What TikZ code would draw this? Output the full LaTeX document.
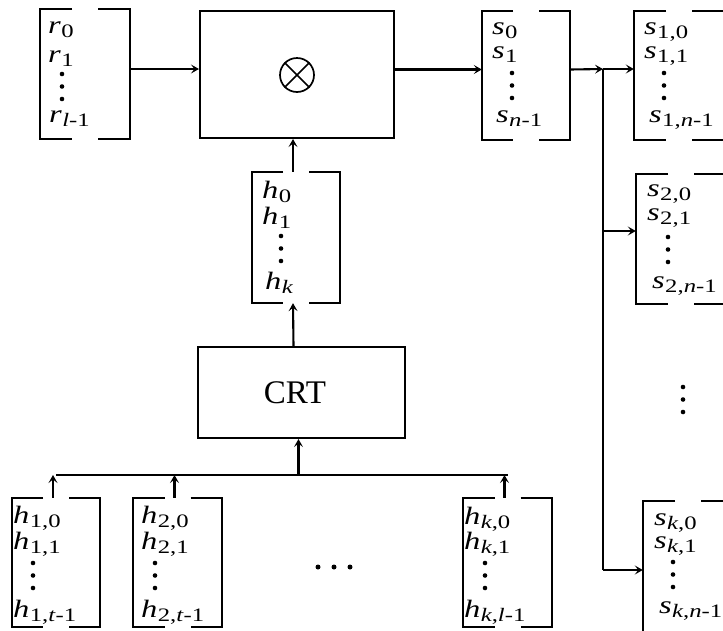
\documentclass[tikz,border=0pt]{standalone}
\usepackage{fontspec}
\setmainfont{Liberation Serif}
\usetikzlibrary{calc,arrows.meta}
\newcommand\V[2]{\scalebox{1.3}[1]{\textit{#1}\kern0.3pt\raisebox{-4.5pt}{\fontsize{19}{19}\selectfont#2}}}
\newcommand\I[1]{\textit{#1}}
\newcommand\brk[2]{%
  \draw[ln] ($(#1.north)+(-#2,0)$) -| (#1.south west) -- ($(#1.south)+(-#2,0)$);
  \draw[ln] ($(#1.north)+(#2,0)$) -| (#1.south east) -- ($(#1.south)+(#2,0)$);}
\newcommand\vd[2]{\fill (#1,#2) circle (2.3) (#1,#2+12.5) circle (2.3) (#1,#2+25) circle (2.3);}
\begin{document}
\begin{tikzpicture}[x=1pt,y=-1pt,
  ln/.style={line width=2.1pt},
  conn/.style={line width=2.1pt,->,>={Stealth[length=8pt,width=9pt,inset=3.5pt]}},
  frame/.style={inner sep=0pt,minimum width=#1},
  blk/.style={draw,ln,inner sep=0pt},
  txt/.style={anchor=base west,inner sep=0pt,font=\fontsize{25}{25}\selectfont}]
\useasboundingbox (0,0) rectangle (723,630);
\clip (0,0) rectangle (723,630);
% bracket columns
\node[frame=90,minimum height=130] (R) at (85,74) {};
\node[frame=88,minimum height=129] (S) at (526,75.5) {};
\node[frame=90,minimum height=129] (S1) at (679,75.5) {};
\node[frame=88,minimum height=131] (H) at (296,237.5) {};
\node[frame=90,minimum height=130] (S2) at (681,239) {};
\node[frame=90,minimum height=134] (SK) at (688,568) {};
\node[frame=88,minimum height=129] (H1) at (56,562.5) {};
\node[frame=89,minimum height=129] (H2) at (177.5,562.5) {};
\node[frame=89,minimum height=129] (HK) at (507.5,562.5) {};
\foreach \b in {R,S,S1,H,S2,SK,H1,H2,HK} {\brk{\b}{13}}
% blocks
\node[blk,minimum width=194,minimum height=127] (M) at (297,74.5) {};
\node[draw,circle,minimum size=34,inner sep=0pt,line width=1.7pt] (X) at (297,75) {};
\draw[line width=1.7pt] (X.north west) -- (X.south east) (X.north east) -- (X.south west);
\node[blk,minimum width=207,minimum height=91] (CRT) at (301.5,392.5) {};
% connectors
\coordinate (J) at (603,69);
\coordinate (JK) at (603,570);
\coordinate (bus) at (0,475);
\draw[conn] ([yshift=5pt]R.east) -- ([yshift=5pt]R.east -| M.west);
\draw[conn] ([yshift=5pt]M.east) -- ([yshift=5pt]M.east -| S.west);
\draw[conn] ([yshift=6pt]S.east) -- (J);
\draw[conn] (J) -- (J -| S1.west);
\draw[ln] (J) -- (JK);
\draw[conn] (JK) -- (JK -| SK.west);
\draw[conn] ([yshift=8pt]S2.west -| J) -- ([yshift=8pt]S2.west);
\draw[conn] ([xshift=-3pt]H.north) -- ([xshift=-3pt]H.north |- M.south);
\draw[conn] ([xshift=-8pt]CRT.north) -- ([xshift=-3pt]H.south);
\draw[ln] (H1.north |- bus) -- (HK.north |- bus);
\draw[conn] ([xshift=-3pt]H1.north) -- ([xshift=-3pt]H1.north |- bus);
\draw[conn] ([xshift=-3pt]H2.north) -- ([xshift=-3pt]H2.north |- bus);
\draw[conn] ([xshift=-3pt]HK.north) -- ([xshift=-3pt]HK.north |- bus);
\draw[conn] ([xshift=-3pt]CRT.south |- bus) -- ([xshift=-3pt]CRT.south);
% texts
\node[font=\fontsize{33}{33}\selectfont,inner sep=0pt] (crtl) at (295,393) {CRT};
\node[txt] (r0) at (48,33) {\V{r}{0}};
\node[txt] (r1) at (48,62) {\V{r}{1}};
\node[txt] (rl) at (49,122) {\V{r}{\I{l}-1}};
\vd{62}{74}
\node[txt] (s0) at (492,34) {\V{s}{0}};
\node[txt] (s1) at (492,58) {\V{s}{1}};
\node[txt] (sn) at (496,122) {\V{s}{\I{n}-1}};
\vd{512}{73}
\node[txt] (s10) at (644,34) {\V{s}{1,0}};
\node[txt] (s11) at (644,58) {\V{s}{1,1}};
\node[txt] (s1n) at (649,122) {\V{s}{1,\I{n}-1}};
\vd{664}{73}
\node[txt] (h0) at (262,198) {\V{h}{0}};
\node[txt] (h1) at (262,224) {\V{h}{1}};
\node[txt] (hk) at (265,289) {\V{h}{\I{k}}};
\vd{281}{236}
\node[txt] (s20) at (647,196) {\V{s}{2,0}};
\node[txt] (s21) at (647,220) {\V{s}{2,1}};
\node[txt] (s2n) at (652,288) {\V{s}{2,\I{n}-1}};
\vd{668}{237}
\node[txt] (sk0) at (654,525) {\V{s}{\I{k},0}};
\node[txt] (sk1) at (654,548) {\V{s}{\I{k},1}};
\node[txt] (skn) at (659,613) {\V{s}{\I{k},\I{n}-1}};
\vd{673}{562}
\node[txt] (h10) at (13,523) {\V{h}{1,0}};
\node[txt] (h11) at (13,549) {\V{h}{1,1}};
\node[txt] (h1t) at (13,617) {\V{h}{1,\I{t}-1}};
\vd{33}{563}
\node[txt] (h20) at (141,523) {\V{h}{2,0}};
\node[txt] (h21) at (141,549) {\V{h}{2,1}};
\node[txt] (h2t) at (141,617) {\V{h}{2,\I{t}-1}};
\vd{155}{563}
\node[txt] (hk0) at (464,524) {\V{h}{\I{k},0}};
\node[txt] (hk1) at (464,549) {\V{h}{\I{k},1}};
\node[txt] (hkl) at (464,617) {\V{h}{\I{k},\I{l}-1}};
\vd{485}{563}
% other dots
\fill (318,567) circle (2.5) (334,567) circle (2.5) (350,567) circle (2.5);
\vd{683}{387}
\end{tikzpicture}
\end{document}
